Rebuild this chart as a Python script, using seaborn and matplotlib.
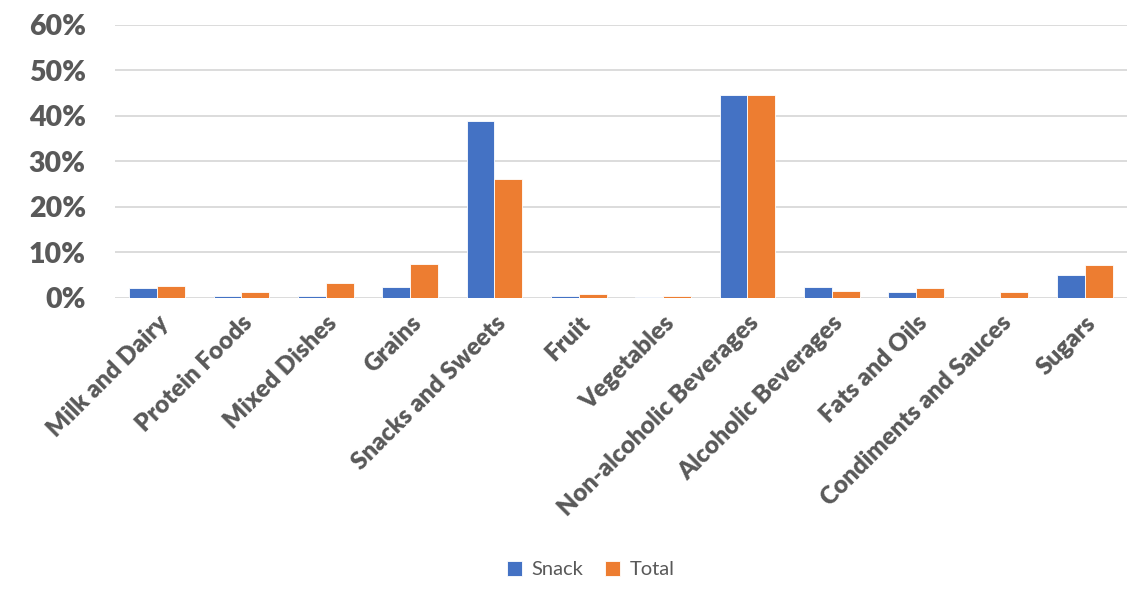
import pandas as pd
import matplotlib.pyplot as plt
import seaborn as sns
from matplotlib.ticker import PercentFormatter

categories = ["Milk and Dairy", "Protein Foods", "Mixed Dishes", "Grains",
              "Snacks and Sweets", "Fruit", "Vegetables", "Non-alcoholic Beverages",
              "Alcoholic Beverages", "Fats and Oils", "Condiments and Sauces", "Sugars"]
snack = [2.1, 0.45, 0.4, 2.3, 38.9, 0.4, 0.1, 44.6, 2.4, 1.3, 0.05, 5.1]
total = [2.7, 1.2, 3.2, 7.4, 26.1, 0.8, 0.4, 44.6, 1.5, 2.1, 1.3, 7.3]
series = ["Snack", "Total"]
colors = ["#4472C4", "#ED7D31"]

df = pd.DataFrame({
    "category": categories * 2,
    "series": [series[0]] * len(categories) + [series[1]] * len(categories),
    "value": snack + total,
})

sns.set_style("white")
plt.rcParams["font.family"] = ["Lato", "DejaVu Sans"]

fig = plt.figure(figsize=(11.27, 5.91), dpi=100)
ax = fig.add_axes([0.102, 0.496, 0.898, 0.462])

sns.barplot(data=df, x="category", y="value", hue="series", palette=colors,
            width=0.66, ax=ax, edgecolor="white", linewidth=0.6, saturation=1)

ax.set_ylim(0, 60)
ax.set_yticks(range(0, 61, 10))
ax.yaxis.set_major_formatter(PercentFormatter(decimals=0))
ax.grid(axis="y", color="#D9D9D9", linewidth=1.3)
ax.set_axisbelow(True)
ax.set_xlim(-0.5, len(categories) - 0.5)
for s in ["top", "right", "left", "bottom"]:
    ax.spines[s].set_visible(False)
ax.tick_params(axis="both", length=0)
ax.tick_params(axis="y", labelsize=20.5, labelcolor="#595959", pad=21)
for lab in ax.get_yticklabels():
    lab.set_fontweight("heavy")
ax.set_xticks(range(len(categories)))
ax.set_xticklabels(categories, rotation=45, ha="right", rotation_mode="anchor",
                   fontsize=17.5, fontweight="heavy", color="#595959")
ax.tick_params(axis="x", pad=10)
ax.set_xlabel("")
ax.set_ylabel("")

ax.legend(loc="center", bbox_to_anchor=(0.47, -0.995), ncol=2, frameon=False,
          fontsize=14.5, handlelength=0.75, handleheight=0.75, columnspacing=1.1,
          handletextpad=0.45, labelcolor="#595959")

fig.savefig("out.png", dpi=100)
